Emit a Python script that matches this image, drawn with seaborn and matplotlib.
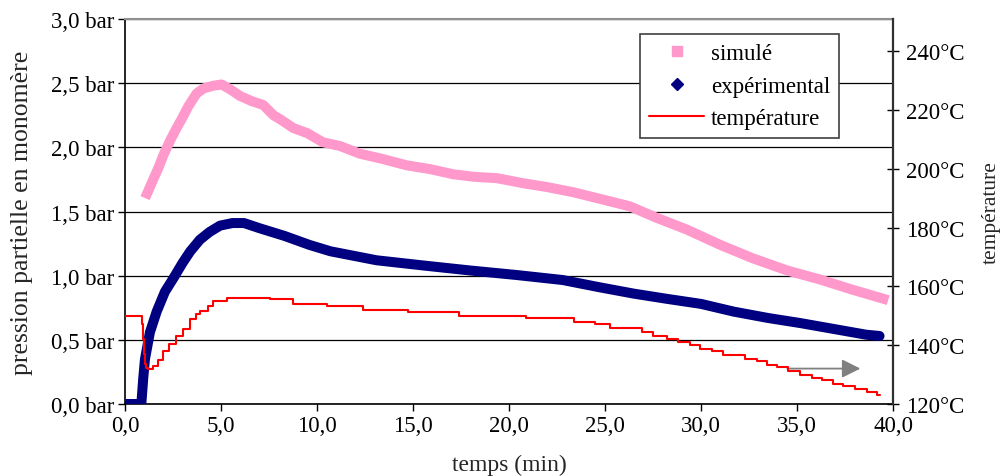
import numpy as np
import pandas as pd
import matplotlib
matplotlib.use("Agg")
import matplotlib.pyplot as plt
import seaborn as sns
from matplotlib.lines import Line2D
from matplotlib.ticker import FuncFormatter, MultipleLocator

# --- Data ---
# simulated partial pressure (bar) vs time (min)
sim_t = [1.15, 1.5, 1.74, 2.0, 2.34, 2.65, 2.95, 3.3, 3.73, 4.1, 4.6, 5.03, 5.5,
         5.99, 6.6, 7.2, 7.73, 8.07, 8.77, 9.5, 10.3, 11.2, 12.24, 13.4, 14.67,
         15.9, 17.1, 18.2, 19.36, 20.75, 22.0, 23.35, 24.7, 26.3, 27.7, 29.25,
         31.0, 32.7, 34.5, 36.2, 37.9, 39.5]
sim_p = [1.64, 1.76, 1.84, 1.94, 2.05, 2.14, 2.22, 2.32, 2.42, 2.46, 2.48, 2.49, 2.45,
         2.40, 2.36, 2.33, 2.25, 2.22, 2.15, 2.11, 2.04, 2.01, 1.95, 1.91, 1.86,
         1.83, 1.79, 1.77, 1.76, 1.72, 1.69, 1.65, 1.60, 1.54, 1.45, 1.36,
         1.24, 1.135, 1.04, 0.97, 0.89, 0.82]

# experimental partial pressure (bar)
exp_t = [0.0, 0.5, 0.85, 0.95, 1.04, 1.3, 1.65, 2.08, 2.52, 3.0, 3.4, 3.9, 4.4,
         4.95, 5.6, 6.2, 7.0, 8.3, 9.6, 10.7, 13.1, 15.5, 18.0, 20.4, 22.8, 24.7,
         26.5, 28.2, 30.0, 31.7, 33.5, 35.2, 36.9, 38.6, 39.3]
exp_p = [0.0, 0.0, 0.0, 0.2, 0.35, 0.56, 0.72, 0.875, 0.98, 1.10, 1.19, 1.28, 1.34,
         1.39, 1.41, 1.41, 1.37, 1.31, 1.24, 1.19, 1.12, 1.08, 1.04, 1.005, 0.966, 0.91,
         0.86, 0.82, 0.78, 0.72, 0.67, 0.63, 0.585, 0.54, 0.53]

# temperature (°C), step changes (time at which each level starts)
temp_t = [0.0, 0.87, 0.95, 1.0, 1.05, 1.1, 1.2, 1.45, 1.7, 1.99, 2.3, 2.68, 3.0,
          3.39, 3.7, 3.9, 4.3, 4.6, 5.3, 7.55, 8.77, 10.5, 12.4, 14.76, 17.4, 20.9,
          23.4, 24.5, 25.26, 26.91, 27.52, 28.21, 28.82, 29.43, 29.95, 30.56, 31.16,
          32.29, 32.9, 33.42, 33.94, 34.55, 35.16, 35.76, 36.28, 36.89, 37.41,
          38.02, 38.63, 39.15, 39.32]
temp_c = [150.0, 147.3, 142.0, 137.0, 133.5, 132.3, 132.0, 133.0, 135.0, 138.2, 140.5,
          143.3, 145.5, 149.0, 150.5, 151.8, 153.5, 154.9, 156.0, 155.6, 154.1, 153.3,
          152.1, 151.3, 149.9, 149.2, 147.9, 147.1, 145.7, 144.5, 143.1, 142.0, 141.1,
          140.2, 138.8, 137.9, 136.8, 135.4, 134.5, 133.4, 132.6, 131.1, 130.0, 128.8,
          128.0, 126.9, 126.1, 125.2, 124.1, 122.9, 122.9]

labels = ["simulé", "expérimental", "température"]
PINK = "#FF99CC"
NAVY = "#000080"
RED = "#FF0000"

sns.set_theme(style="white")
plt.rcParams["font.family"] = ["Liberation Serif", "DejaVu Serif"]
plt.rcParams["text.color"] = "black"
plt.rcParams["xtick.color"] = "black"
plt.rcParams["ytick.color"] = "black"

fig = plt.figure(figsize=(10, 4.77), dpi=100)
ax = fig.add_axes([0.125, 1 - 405 / 477, 0.768, 385 / 477])
ax2 = ax.twinx()

sim_df = pd.DataFrame({"t": sim_t, "p": sim_p})
exp_df = pd.DataFrame({"t": exp_t, "p": exp_p})
temp_df = pd.DataFrame({"t": temp_t, "T": temp_c})

sns.lineplot(data=sim_df, x="t", y="p", ax=ax, color=PINK, linewidth=7.2,
             sort=False, estimator=None, solid_capstyle="projecting", zorder=3)
sns.lineplot(data=exp_df, x="t", y="p", ax=ax, color=NAVY, linewidth=7.2,
             sort=False, estimator=None, solid_capstyle="round",
             solid_joinstyle="round", zorder=4)
sns.lineplot(data=temp_df, x="t", y="T", ax=ax2, color=RED, linewidth=1.5,
             sort=False, estimator=None, drawstyle="steps-post")

# arrow pointing to the temperature axis
ax.annotate("", xy=(38.3, 0.276), xytext=(34.5, 0.276),
            arrowprops=dict(arrowstyle="-|>", color="#808080", lw=1.3,
                            mutation_scale=28, shrinkA=0, shrinkB=0))

# axes limits and ticks
ax.set_xlim(0, 40)
ax.set_ylim(0, 3.0)
ax2.set_ylim(120, 251)
ax.xaxis.set_major_locator(MultipleLocator(5))
ax.yaxis.set_major_locator(MultipleLocator(0.5))
ax2.set_yticks([120, 140, 160, 180, 200, 220, 240])

ax.xaxis.set_major_formatter(FuncFormatter(lambda v, _: f"{v:.1f}".replace(".", ",")))
ax.yaxis.set_major_formatter(FuncFormatter(lambda v, _: f"{v:.1f}".replace(".", ",") + " bar"))
ax2.yaxis.set_major_formatter(FuncFormatter(lambda v, _: f"{int(round(v))}°C"))

ax.tick_params(axis="both", which="major", direction="out", length=5, width=1,
               labelsize=16.5, pad=3, left=True, bottom=True)
ax2.tick_params(axis="y", direction="inout", length=9, width=1, labelsize=16.5,
                pad=5, right=True)

ax.set_axisbelow(True)
ax.yaxis.grid(True, color="black", linewidth=0.9)
ax.xaxis.grid(False)

for side in ["left", "bottom"]:
    ax.spines[side].set_color("black")
    ax.spines[side].set_linewidth(1.2)
ax.spines["top"].set_color("#909090")
ax.spines["top"].set_linewidth(1.5)
ax.spines["right"].set_visible(False)
for side in ["left", "bottom", "top"]:
    ax2.spines[side].set_visible(False)
ax2.spines["right"].set_color("#303030")
ax2.spines["right"].set_linewidth(1.6)

ax.set_xlabel("temps (min)", fontsize=17)
ax.set_ylabel("pression partielle en monomère", fontsize=18.5)
ax2.set_ylabel("température", fontsize=15.5)
ax.xaxis.set_label_coords(0.5, -0.13)
ax.yaxis.set_label_coords(-0.12, 0.5)
ax2.yaxis.set_label_coords(1.116, 0.5)

handles = [
    Line2D([], [], marker="s", color=PINK, linestyle="None", markersize=7),
    Line2D([], [], marker="D", color=NAVY, linestyle="None", markersize=6),
    Line2D([], [], color=RED, linewidth=1.5),
]
leg = ax2.legend(handles, labels, loc="upper left",
                 bbox_to_anchor=(0.640, 1 - 35 / 477), bbox_transform=fig.transFigure,
                 fontsize=16.5, frameon=True, fancybox=False, borderaxespad=0,
                 handlelength=2.4, handletextpad=0.3, labelspacing=0.5,
                 borderpad=0.4)
leg.get_frame().set_edgecolor("#404040")
leg.get_frame().set_linewidth(1.2)
leg.get_frame().set_facecolor("white")
leg.get_frame().set_alpha(1)

fig.savefig("out.png", dpi=100)
